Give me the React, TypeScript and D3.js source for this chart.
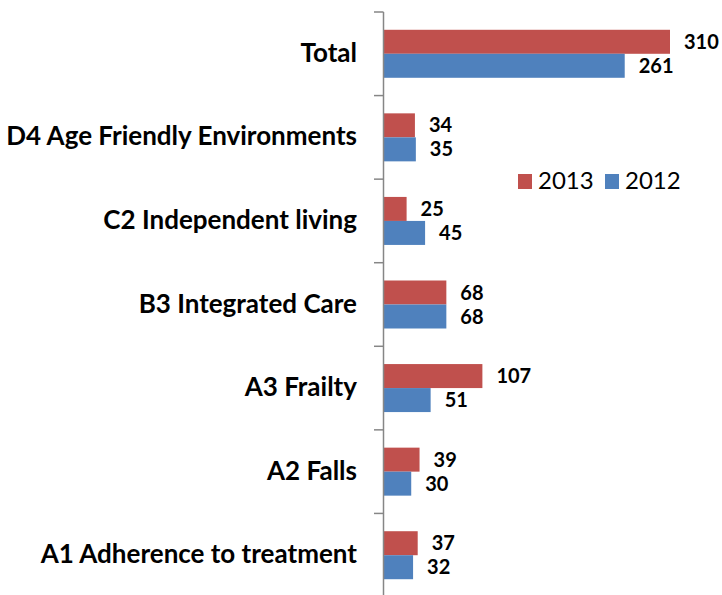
import React from "react";
import * as d3 from "d3";

const categories = [
  "Total",
  "D4 Age Friendly Environments",
  "C2 Independent living",
  "B3 Integrated Care",
  "A3 Frailty",
  "A2 Falls",
  "A1 Adherence to treatment",
];
const values2013 = [310, 34, 25, 68, 107, 39, 37];
const values2012 = [261, 35, 45, 68, 51, 30, 32];
const seriesNames = ["2013", "2012"];
const colors = ["#C0504D", "#4F81BD"];

export default function App() {
  const W = 722, H = 595;
  const axisX = 383.5;
  const y = d3.scaleBand<string>().domain(categories).range([12, 597]).padding(0);
  const x = d3.scaleLinear().domain([0, 310]).range([axisX, 670]);
  const barH = 24;
  const bw = y.bandwidth();
  const series = [values2013, values2012];
  const catFont = "Lato, 'Open Sans', sans-serif";

  return (
    <svg width={W} height={H} style={{ position: "absolute", left: 0, top: 0, background: "#fff" }}>
      {categories.map((c, i) => {
        const y0 = (y(c) as number) + (bw - 2 * barH) / 2;
        return (
          <g key={c}>
            {series.map((s, k) => (
              <g key={k}>
                <rect
                  x={axisX}
                  y={y0 + k * barH}
                  width={x(s[i]) - axisX}
                  height={barH}
                  fill={colors[k]}
                />
                <text
                  x={x(s[i]) + 14}
                  y={y0 + k * barH + barH / 2 + 7}
                  fontFamily={catFont}
                  fontWeight="bold"
                  fontSize={20}
                  fill="#000"
                >
                  {s[i]}
                </text>
              </g>
            ))}
            <text
              x={357}
              y={(y(c) as number) + bw / 2 + 8}
              textAnchor="end"
              fontFamily={catFont}
              fontWeight="bold"
              fontSize={26}
              fill="#000"
            >
              {c}
            </text>
          </g>
        );
      })}
      <line x1={axisX} x2={axisX} y1={12} y2={597} stroke="#868686" strokeWidth={1.5} />
      {categories.concat(["end"]).map((c, i) => {
        const ty = 12 + i * bw;
        return <line key={i} x1={374} x2={axisX} y1={ty} y2={ty} stroke="#868686" strokeWidth={1.5} />;
      })}
      {seriesNames.map((n, k) => {
        const lx = [518, 605][k];
        return (
          <g key={n}>
            <rect x={lx} y={174} width={14} height={15} fill={colors[k]} />
            <text x={lx + 20} y={189} fontFamily={catFont} fontSize={24} fill="#000">
              {n}
            </text>
          </g>
        );
      })}
    </svg>
  );
}
